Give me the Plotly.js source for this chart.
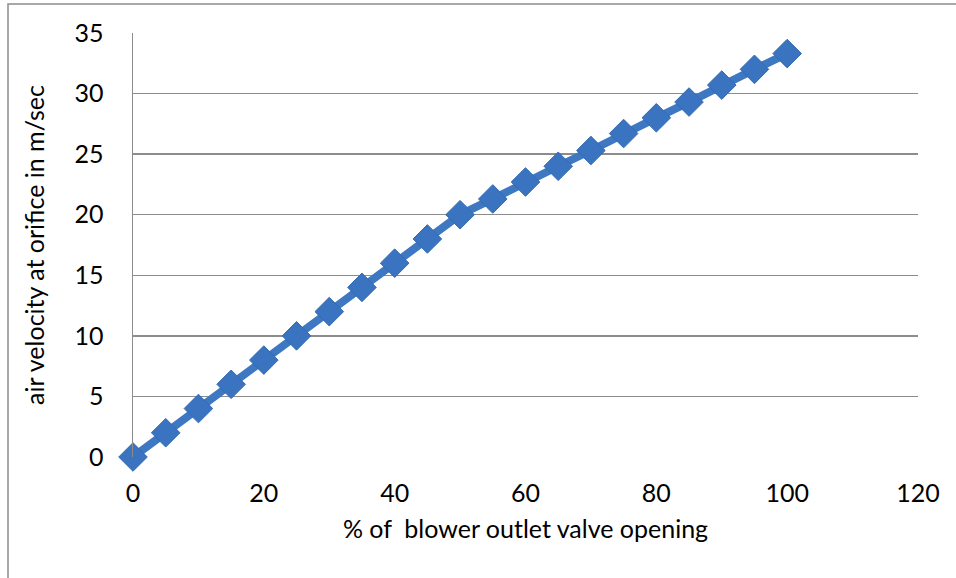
<!DOCTYPE html>
<html><head><meta charset="utf-8">
<script src="https://cdn.plot.ly/plotly-3.0.1.min.js"></script>
<style>body{margin:0;background:#fff}#c{width:956px;height:578px}</style>
</head><body><div id="c"></div>
<script>
const valveOpening = [0,5,10,15,20,25,30,35,40,45,50,55,60,65,70,75,80,85,90,95,100];
const airVelocity = [0,2,4,6,8,10,12,14,16,18,20,21.3,22.7,24,25.3,26.7,28,29.3,30.7,32,33.3];
const xTitle = '% of  blower outlet valve opening';
const yTitle = 'air velocity at orifice in m/sec';

const font = {family:'Lato, sans-serif', size:25, color:'#000'};
const L=133, R=38, T=33, B=121, W=956, H=578;
const pw=W-L-R, ph=H-T-B;

Plotly.newPlot('c', [{
  x: valveOpening, y: airVelocity, mode:'lines+markers', type:'scatter',
  cliponaxis:false,
  line:{color:'#3E78C2', width:8},
  marker:{symbol:'diamond', size:22, color:'#3A74C0', line:{color:'#346AB0', width:1}},
  showlegend:false, hoverinfo:'skip'
}], {
  width:W, height:H,
  margin:{l:L, r:R, t:T, b:B, pad:0},
  paper_bgcolor:'#fff', plot_bgcolor:'#fff',
  font: font,
  xaxis:{range:[0,120], tickvals:[0,20,40,60,80,100,120], showgrid:false, zeroline:false,
    showline:false, ticks:'outside', ticklen:14, tickcolor:'rgba(0,0,0,0)', tickfont:font,
    title:{text:xTitle, font:font, standoff:14}},
  yaxis:{range:[0,35], tickvals:[0,5,10,15,20,25,30,35], showgrid:true, gridcolor:'#8c8c8c', gridwidth:1.5,
    zeroline:false, showline:true, linecolor:'#8c8c8c', linewidth:1.5, ticks:'outside', ticklen:23,
    tickcolor:'rgba(0,0,0,0)', tickfont:font, title:{text:yTitle, font:font, standoff:22}},
  shapes:[{type:'rect', xref:'paper', yref:'paper',
    x0:(8-L)/pw, x1:(W+20-L)/pw, y0:-(H+20-T-ph)/ph, y1:1+(T-4)/ph,
    line:{color:'#8c8c8c', width:1.5}, fillcolor:'rgba(0,0,0,0)', layer:'below'}]
}, {staticPlot:true});
</script></body></html>
